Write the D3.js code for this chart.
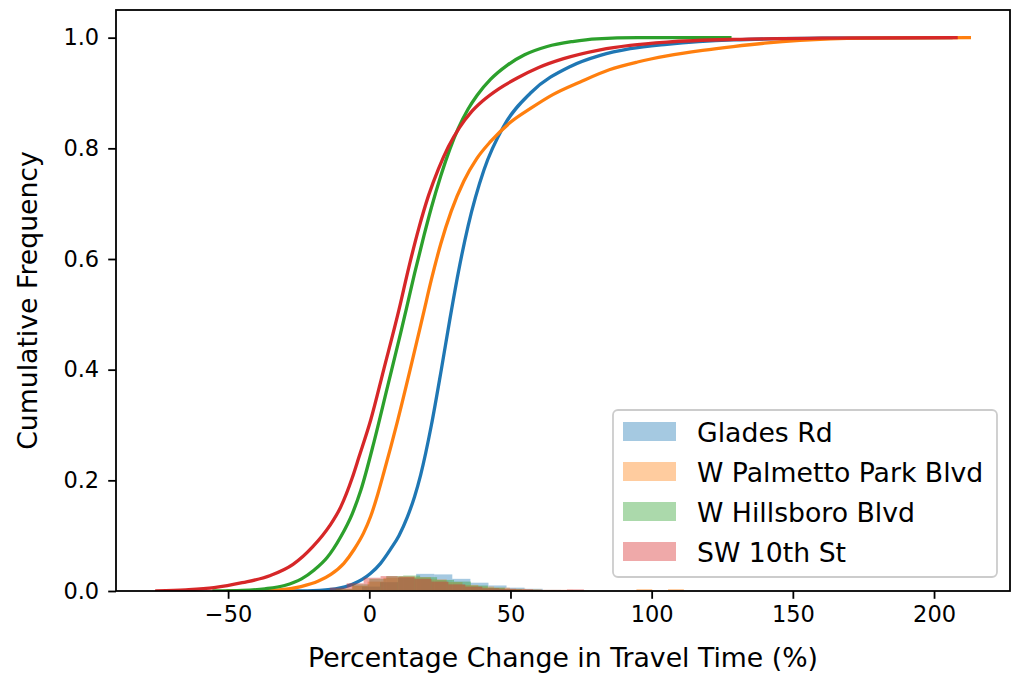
<!DOCTYPE html>
<html>
<head>
<meta charset="utf-8">
<script src="https://cdn.jsdelivr.net/npm/d3@7"></script>
<style>
  body { margin: 0; background: #fff; }
  svg { display: block; font-family: "DejaVu Sans", sans-serif; }
</style>
</head>
<body>
<svg id="vis" width="1015" height="677"></svg>
<script>
// Nombres de las series (orden de dibujo y de la leyenda)
const SERIES = ["Glades Rd", "W Palmetto Park Blvd", "W Hillsboro Blvd", "SW 10th St"];

// Curvas acumuladas (KDE): [x, frecuencia acumulada]
const CDF_GLADES = [[-30, 0], [-20, 0.0008], [-12, 0.004], [-6, 0.012], [0.5, 0.032], [4, 0.05],
  [7.6, 0.076], [10.5, 0.1], [13.5, 0.134], [16, 0.17], [18.2, 0.21], [22, 0.30], [25.5, 0.40],
  [28.5, 0.49], [31.5, 0.575], [35, 0.66], [40.6, 0.761], [47.6, 0.84], [57.1, 0.90], [71.2, 0.948],
  [81.8, 0.968], [92.4, 0.98], [105.4, 0.988], [128.9, 0.996], [160, 0.999], [206, 1]];
const CDF_PALMETTO = [[-50, 0], [-40, 0.0005], [-32, 0.002], [-24.2, 0.008], [-18, 0.018], [-13.6, 0.03],
  [-9, 0.05], [-5.4, 0.075], [-2, 0.105], [0.5, 0.135], [3, 0.175], [5.2, 0.215], [7.6, 0.26],
  [10, 0.307], [14.7, 0.405], [19.1, 0.5], [22, 0.563], [25.3, 0.627], [29, 0.686], [33.5, 0.741],
  [38, 0.781], [42.9, 0.812], [50, 0.847], [57.1, 0.872], [65, 0.897], [74.7, 0.92], [85, 0.942],
  [95, 0.956], [105.4, 0.967], [118, 0.977], [128.9, 0.984], [140, 0.99], [152.5, 0.995],
  [175, 0.999], [212.5, 1]];
const CDF_HILLSBORO = [[-55, 0], [-45, 0.001], [-37, 0.004], [-30, 0.01], [-24, 0.022], [-19.5, 0.038],
  [-15, 0.06], [-10.1, 0.098], [-6, 0.14], [-3, 0.182], [1.7, 0.27], [6.4, 0.368], [11.1, 0.466],
  [12.9, 0.505], [16, 0.573], [19.4, 0.643], [22, 0.693], [25.3, 0.75], [28.5, 0.798], [31.5, 0.836],
  [35, 0.871], [38.2, 0.896], [43, 0.925], [48.8, 0.95], [55, 0.969], [63, 0.984], [72, 0.993],
  [80.6, 0.998], [95, 1], [127.7, 1]];
const CDF_SW10 = [[-75.3, 0], [-65, 0.002], [-55, 0.006], [-45, 0.015], [-35, 0.028], [-27, 0.048],
  [-20, 0.08], [-14, 0.118], [-10.1, 0.152], [-6, 0.205], [-3.6, 0.243], [0.5, 0.309], [5.2, 0.402],
  [10.5, 0.508], [14, 0.585], [17.5, 0.655], [21, 0.715], [24.5, 0.763], [28, 0.803], [32, 0.838],
  [36, 0.865], [40, 0.885], [46, 0.908], [52.4, 0.927], [60, 0.946], [68.8, 0.962], [81.8, 0.978],
  [92.4, 0.986], [105.4, 0.992], [130, 0.997], [160, 0.999], [207.8, 1]];

// Histogramas (densidad): inicio del primer bin, ancho de bin y alturas
const BIN_START = [-9, -11.8, -12, -14];
const BIN_WIDTH = [6.4, 5.6, 6, 6];
const DENS_GLADES = [0.002, 0.008, 0.016, 0.024, 0.031, 0.030, 0.022, 0.015, 0.010, 0.006, 0.004, 0.002, 0.001];
const DENS_PALMETTO = [0.003, 0.009, 0.017, 0.024, 0.026, 0.025, 0.021, 0.016, 0.011, 0.008, 0.006,
  0.004, 0.003, 0.002, 0.002, 0.001, 0, 0, 0, 0.0035, 0, 0.0035];
const DENS_HILLSBORO = [0.004, 0.012, 0.022, 0.027, 0.028, 0.025, 0.020, 0.017, 0.010, 0.006, 0.003, 0.002, 0.001];
const DENS_SW10 = [0.006, 0.014, 0.024, 0.027, 0.026, 0.022, 0.017, 0.012, 0.008, 0.005, 0.004,
  0.003, 0.002, 0.002, 0.003];

// Ticks de los ejes
const X_TICKS = [-50, 0, 50, 100, 150, 200];
const Y_TICKS = [0, 0.2, 0.4, 0.6, 0.8, 1.0];

const CDFS = [CDF_GLADES, CDF_PALMETTO, CDF_HILLSBORO, CDF_SW10];
const DENS = [DENS_GLADES, DENS_PALMETTO, DENS_HILLSBORO, DENS_SW10];
const COLORES = ["#1f77b4", "#ff7f0e", "#2ca02c", "#d62728"];

const SVG = d3.select("#vis");
const izq = 116, der = 1010, arriba = 10, abajo = 591;

const x = d3.scaleLinear().domain([-89.7, 226.9]).range([izq, der]);
const y = d3.scaleLinear().domain([0, 1.05]).range([abajo, arriba]);

SVG.append("clipPath").attr("id", "area")
  .append("rect").attr("x", izq).attr("y", arriba).attr("width", der - izq).attr("height", abajo - arriba);

const plot = SVG.append("g").attr("clip-path", "url(#area)");
const linea = d3.line().x(d => x(d[0])).y(d => y(d[1])).curve(d3.curveMonotoneX);

// Cada serie: primero el histograma, luego la curva
SERIES.forEach((nombre, i) => {
  const bins = DENS[i].map((d, k) => ({
    x0: BIN_START[i] + k * BIN_WIDTH[i],
    x1: BIN_START[i] + (k + 1) * BIN_WIDTH[i],
    d: d
  })).filter(b => b.d > 0);

  plot.append("g").selectAll("rect")
    .data(bins)
    .join("rect")
    .attr("x", b => x(b.x0))
    .attr("width", b => x(b.x1) - x(b.x0))
    .attr("y", b => y(b.d))
    .attr("height", b => y(0) - y(b.d))
    .attr("fill", COLORES[i])
    .attr("fill-opacity", 0.4);

  plot.append("path")
    .datum(CDFS[i])
    .attr("d", linea)
    .attr("fill", "none")
    .attr("stroke", COLORES[i])
    .attr("stroke-width", 3.3)
    .attr("stroke-linecap", "square");
});

// Ejes
const ejeX = SVG.append("g").attr("transform", `translate(0,${abajo})`)
  .call(d3.axisBottom(x).tickValues(X_TICKS).tickSize(7.8).tickPadding(7.5).tickSizeOuter(0));
const ejeY = SVG.append("g").attr("transform", `translate(${izq},0)`)
  .call(d3.axisLeft(y).tickValues(Y_TICKS).tickFormat(d3.format(".1f")).tickSize(7.8).tickPadding(9).tickSizeOuter(0));

[ejeX, ejeY].forEach(g => {
  g.select(".domain").remove();
  g.selectAll(".tick line").attr("stroke", "#000").attr("stroke-width", 1.8);
  g.selectAll(".tick text").attr("fill", "#000").style("font-size", "22.5px")
    .style("font-family", "'DejaVu Sans', sans-serif");
});

// Marco
SVG.append("rect")
  .attr("x", izq).attr("y", arriba)
  .attr("width", der - izq).attr("height", abajo - arriba)
  .attr("fill", "none").attr("stroke", "#000").attr("stroke-width", 1.8);

// Etiquetas de ejes
SVG.append("text")
  .attr("x", (izq + der) / 2).attr("y", 667)
  .attr("text-anchor", "middle")
  .style("font-size", "26.7px")
  .text("Percentage Change in Travel Time (%)");

SVG.append("text")
  .attr("transform", `translate(37,${(arriba + abajo) / 2}) rotate(-90)`)
  .attr("text-anchor", "middle")
  .style("font-size", "26.7px")
  .text("Cumulative Frequency");

// Leyenda
const leyenda = SVG.append("g");
leyenda.append("rect")
  .attr("x", 613).attr("y", 410).attr("width", 384).attr("height", 167)
  .attr("rx", 5).attr("fill", "#fff").attr("fill-opacity", 0.8)
  .attr("stroke", "#ccc").attr("stroke-width", 1.8);

const item = leyenda.selectAll(".item")
  .data(SERIES)
  .join("g")
  .attr("class", "item")
  .attr("transform", (d, i) => `translate(0, ${i * 40})`);

item.append("rect")
  .attr("x", 623).attr("y", 422).attr("width", 53).attr("height", 19)
  .attr("fill", (d, i) => COLORES[i]).attr("fill-opacity", 0.4);

item.append("text")
  .attr("x", 697).attr("y", 442)
  .style("font-size", "26.7px")
  .text(d => d);
</script>
</body>
</html>
